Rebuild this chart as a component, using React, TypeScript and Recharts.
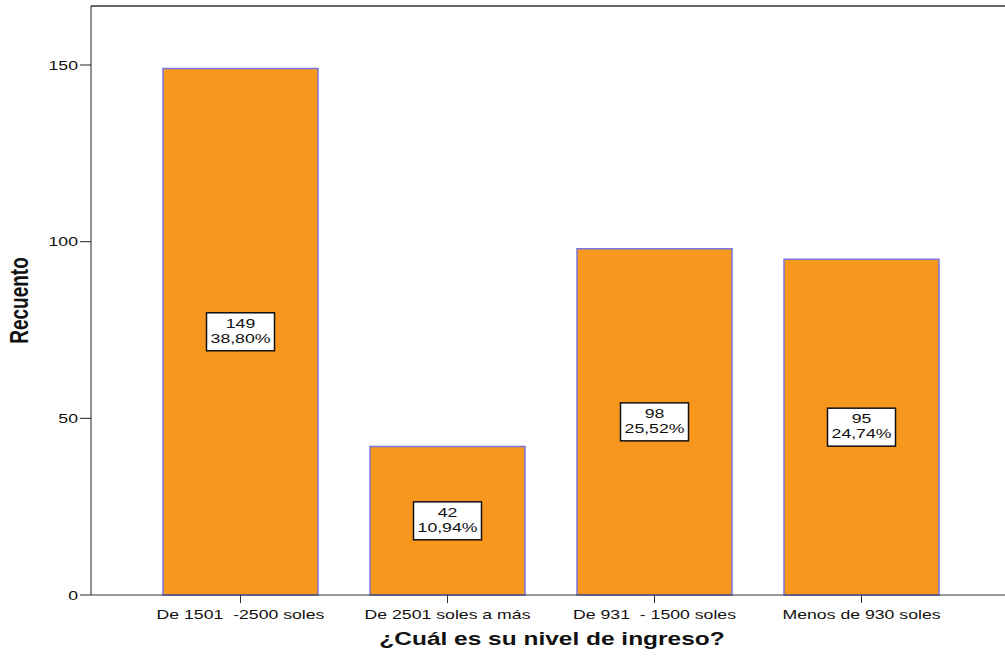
import React from 'react';
import { BarChart, Bar, XAxis, YAxis, LabelList, Label, ReferenceLine } from 'recharts';

const categories = ['De 1501  -2500 soles', 'De 2501 soles a más', 'De 931  - 1500 soles', 'Menos de 930 soles'];
const counts = [149, 42, 98, 95];
const percents = ['38,80%', '10,94%', '25,52%', '24,74%'];
const yTicks = [0, 50, 100, 150];
const yMax = 166.7;

const data = categories.map((c, i) => ({ name: c, value: counts[i], pct: percents[i] }));

const FONT = "Arial, 'Liberation Sans', sans-serif";
const K = 1.36; // horizontal text stretch seen in the reference

const BoxLabel = (props: any) => {
  const { x, y, width, height, index } = props;
  const cx = x + width / 2;
  const cy = y + height / 2;
  const w = 68;
  const h = 38;
  return (
    <g>
      <rect x={cx - w / 2} y={cy - h / 2} width={w} height={h} fill="#fff" stroke="#111" strokeWidth={1.5} />
      <g transform={`translate(${cx},${cy - 4})`}>
        <text transform={`scale(${K},1)`} textAnchor="middle" fontFamily={FONT} fontSize={13} fill="#111">{counts[index]}</text>
      </g>
      <g transform={`translate(${cx},${cy + 11})`}>
        <text transform={`scale(${K},1)`} textAnchor="middle" fontFamily={FONT} fontSize={13} fill="#111">{percents[index]}</text>
      </g>
    </g>
  );
};

const XTick = (props: any) => {
  const { x, y, payload } = props;
  return (
    <g transform={`translate(${x},${y})`}>
      <text transform={`scale(${K},1)`} textAnchor="middle" dy="1.05em" fontFamily={FONT} fontSize={13} fill="#111" style={{ whiteSpace: 'pre' }}>
        {payload.value}
      </text>
    </g>
  );
};

const YTick = (props: any) => {
  const { x, y, payload } = props;
  return (
    <g transform={`translate(${x},${y})`}>
      <text transform={`scale(${K},1)`} textAnchor="end" dy="0.36em" fontFamily={FONT} fontSize={13} fill="#111">
        {payload.value}
      </text>
    </g>
  );
};

const XTitle = (props: any) => {
  const vb = props.viewBox || { x: 91, y: 595, width: 914, height: 64 };
  const cx = vb.x + vb.width / 2 + 4;
  const cy = vb.y + 44;
  return (
    <g transform={`translate(${cx},${cy})`}>
      <text transform={`scale(${K},1)`} textAnchor="middle" dy="0.36em" fontFamily={FONT} fontSize={18} fontWeight="bold" fill="#111">
        ¿Cuál es su nivel de ingreso?
      </text>
    </g>
  );
};

const YTitle = (props: any) => {
  const vb = props.viewBox || { x: 0, y: 6, width: 91, height: 589 };
  const cx = vb.x + 19;
  const cy = vb.y + vb.height / 2;
  return (
    <g transform={`translate(${cx},${cy}) scale(${K},1) rotate(-90)`}>
      <text textAnchor="middle" dy="0.36em" fontFamily={FONT} fontSize={19} fontWeight="bold" fill="#111">
        Recuento
      </text>
    </g>
  );
};

export default function App() {
  return (
    <div style={{ position: 'absolute', left: 0, top: 0, width: 1005, height: 659, background: '#fff' }}>
      <BarChart width={1005} height={659} data={data} margin={{ top: 6, right: 0, bottom: 0, left: 0 }}>
        <ReferenceLine y={yMax} stroke="#666" strokeWidth={2} ifOverflow="extendDomain" />
        <XAxis
          dataKey="name"
          height={64}
          padding={{ left: 46, right: 40 }}
          tickSize={8}
          tickMargin={2}
          stroke="#333"
          tick={<XTick />}
          interval={0}
        >
          <Label content={<XTitle />} />
        </XAxis>
        <YAxis
          width={91}
          domain={[0, yMax]}
          ticks={yTicks}
          tickSize={11}
          tickMargin={2}
          stroke="#222"
          tick={<YTick />}
        >
          <Label content={<YTitle />} />
        </YAxis>
        <Bar dataKey="value" fill="#F7971E" stroke="#7777DD" strokeWidth={1.5} barSize={155} isAnimationActive={false}>
          <LabelList dataKey="value" content={BoxLabel} />
        </Bar>
      </BarChart>
    </div>
  );
}
